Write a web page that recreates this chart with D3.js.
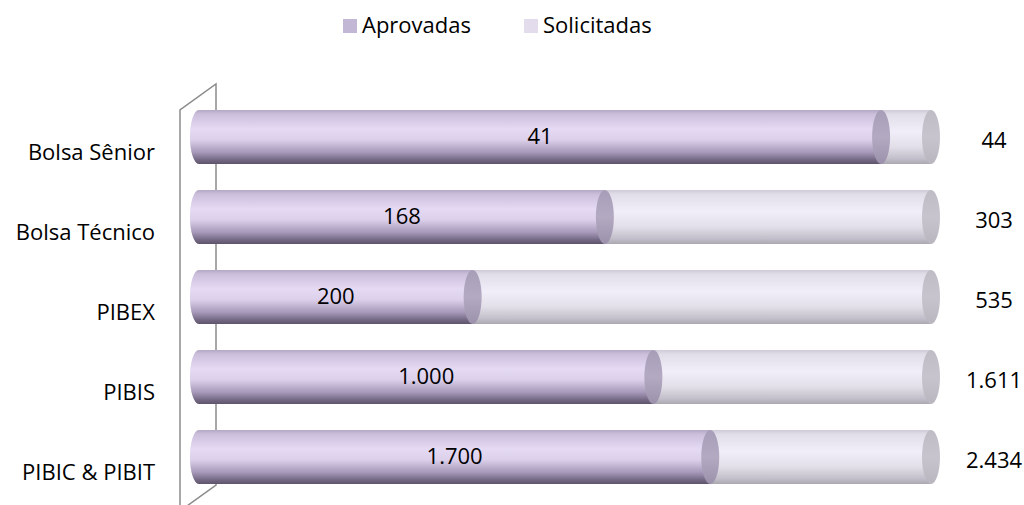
<!doctype html>
<html lang="pt">
<head>
<meta charset="utf-8">
<title>Bolsas - Aprovadas x Solicitadas</title>
<script src="https://cdn.jsdelivr.net/npm/d3@7/dist/d3.min.js"></script>
<style>
  body { margin: 0; background: #fff; }
  text { font-family: "Open Sans", Lato, sans-serif; fill: #000; }
</style>
</head>
<body>
<div id="chart"></div>
<script>
// data
var categories = ["Bolsa Sênior", "Bolsa Técnico", "PIBEX", "PIBIS", "PIBIC & PIBIT"];
var aprovadas = [41, 168, 200, 1000, 1700];
var solicitadas = [44, 303, 535, 1611, 2434];
var seriesNames = ["Aprovadas", "Solicitadas"];

var width = 1024, height = 505;
var barH = 54, rx = 9, fs = 22;

var fmt = d3.formatLocale({decimal: ",", thousands: ".", grouping: [3], currency: ["R$", ""]}).format(",d");

var svg = d3.select("#chart").append("svg")
  .attr("width", width)
  .attr("height", height);

// share of requested (100% = solicitadas)
var x = d3.scaleLinear().domain([0, 1]).range([199, 931]);
var y = d3.scalePoint().domain(categories).range([137, 457]);

// gradients
var defs = svg.append("defs");
function grad(id, stops) {
  var g = defs.append("linearGradient").attr("id", id)
    .attr("x1", 0).attr("y1", 0).attr("x2", 0).attr("y2", 1);
  stops.forEach(function(s) {
    g.append("stop").attr("offset", s[0]).attr("stop-color", s[1]);
  });
}
grad("gAprov", [[0, "#b4a9c4"], [0.08, "#cbbfdc"], [0.35, "#e5daf4"], [0.55, "#dcd0eb"], [0.78, "#a79aba"], [0.92, "#756a86"], [1, "#5e546b"]]);
grad("gSolic", [[0, "#cfcbd6"], [0.08, "#e2dee9"], [0.4, "#f2eef9"], [0.68, "#e3dfe9"], [0.9, "#c3bfca"], [1, "#aca8b2"]]);
grad("gCapA", [[0, "#a79db8"], [0.5, "#b3aac2"], [1, "#9b91ab"]]);
grad("gCapS", [[0, "#c0bcc6"], [0.5, "#c8c4ce"], [1, "#bab6c0"]]);

// 3D wall
var wallTop = y(categories[0]) - barH / 2, wallBot = y(categories[categories.length - 1]) + barH / 2;
var depth = 36, rise = 26;
var wall = svg.append("g").attr("stroke", "#8c8c8c").attr("stroke-width", 1.5).attr("fill", "none");
wall.append("path").attr("d", "M180," + (wallBot + 26) + "V" + wallTop + "L" + (180 + depth) + "," + (wallTop - rise) + "V" + (wallBot + 1) + "L180," + (wallBot + 1 + rise));

function cylinder(g, x0, x1, cy, body, cap) {
  var top = cy - barH / 2, bot = cy + barH / 2;
  g.append("path")
    .attr("d", "M" + x1 + "," + top + "H" + x0 +
      "A" + rx + "," + (barH / 2) + " 0 0 0 " + x0 + "," + bot +
      "H" + x1 + "Z")
    .attr("fill", "url(#" + body + ")");
  g.append("ellipse")
    .attr("cx", x1).attr("cy", cy)
    .attr("rx", rx).attr("ry", barH / 2)
    .attr("fill", "url(#" + cap + ")");
}

var rows = svg.selectAll(".row").data(categories).enter().append("g").attr("class", "row");
rows.each(function(c, i) {
  var g = d3.select(this);
  var cy = y(c);
  cylinder(g, x(0), x(1), cy, "gSolic", "gCapS");
  var f = aprovadas[i] / solicitadas[i];
  cylinder(g, x(0), x(f), cy, "gAprov", "gCapA");
  g.append("text")
    .attr("x", (x(0) + x(f)) / 2).attr("y", cy + 7)
    .attr("text-anchor", "middle").attr("font-size", fs)
    .text(fmt(aprovadas[i]));
  g.append("text")
    .attr("x", 994).attr("y", cy + 11)
    .attr("text-anchor", "middle").attr("font-size", fs)
    .text(fmt(solicitadas[i]));
  g.append("text")
    .attr("x", 155).attr("y", cy + 23)
    .attr("text-anchor", "end").attr("font-size", fs)
    .text(c);
});

// legend
var legColors = ["#c3b7d6", "#e2dcec"];
var legX = [343, 524];
var leg = svg.selectAll(".leg").data(seriesNames).enter().append("g").attr("class", "leg")
  .attr("transform", function(d, i) { return "translate(" + legX[i] + ",19)"; });
leg.append("rect").attr("width", 14).attr("height", 14).attr("fill", function(d, i) { return legColors[i]; });
leg.append("text").attr("x", 19).attr("y", 14).attr("font-size", fs).text(function(d) { return d; });
</script>
</body>
</html>
